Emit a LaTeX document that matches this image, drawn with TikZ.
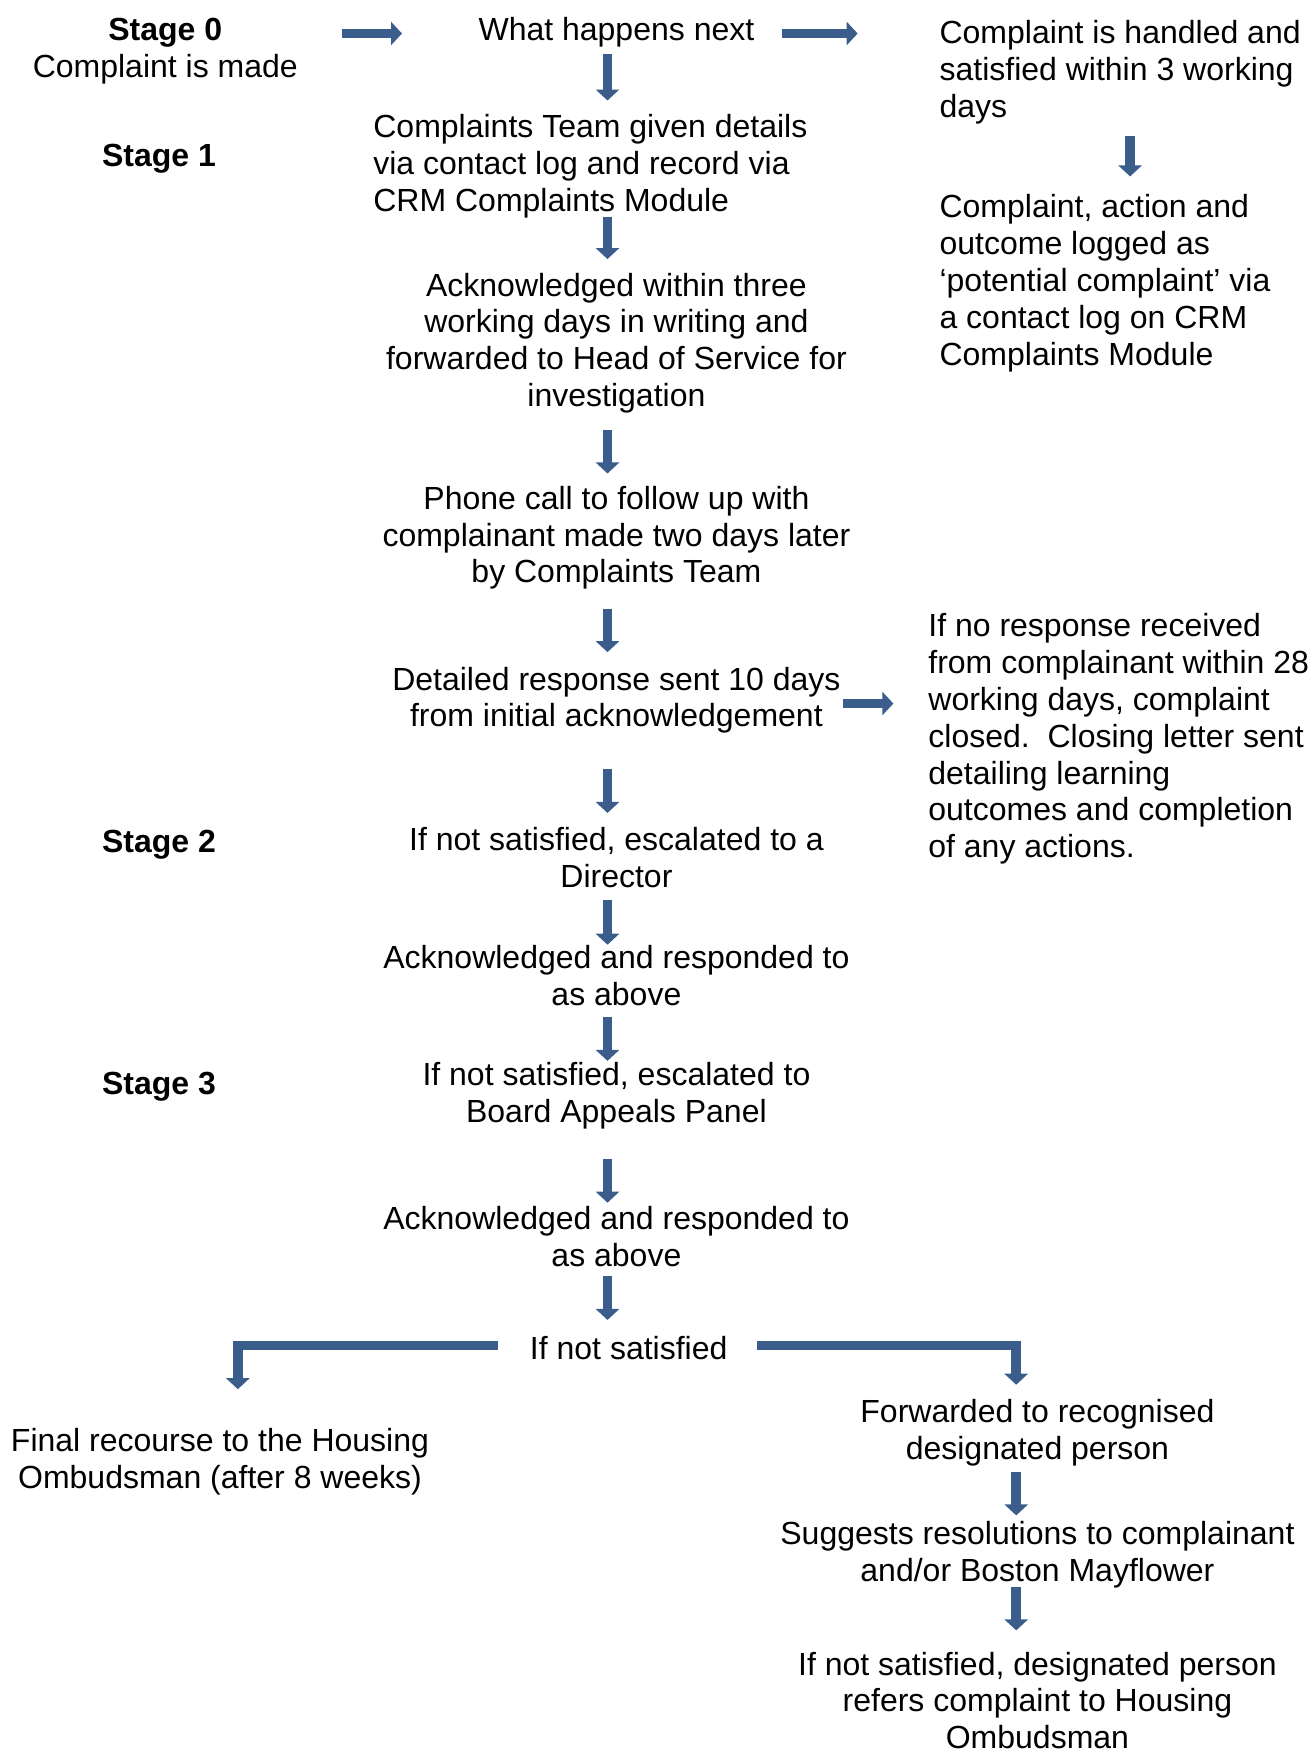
\documentclass[tikz,border=0pt]{standalone}
\usepackage{fontspec}
\setmainfont{Liberation Sans}
\usetikzlibrary{arrows.meta}
\definecolor{arrowblue}{RGB}{58,93,140}
\begin{document}
\begin{tikzpicture}[x=0.5583pt,y=-0.5583pt,
  txt/.style={inner sep=0pt, font=\fontsize{16}{18.4}\selectfont},
  ctxt/.style={txt, align=center, anchor=base},
  ltxt/.style={txt, align=left, anchor=base west},
  arr/.style={draw=arrowblue, line width=4.8pt, line join=miter, -{Triangle[width=11.5pt,length=5.5pt]}}]
\useasboundingbox (0,0) rectangle (1175,1568);
% multi-line nodes are placed by the baseline of their last line

% left column
\node[ctxt] (stage0) at (148,69) {\textbf{Stage 0}\\Complaint is made};
\node[ltxt] (stage1) at (91,149) {\textbf{Stage 1}};
\node[ltxt] (stage2) at (91,763) {\textbf{Stage 2}};
\node[ltxt] (stage3) at (91,980) {\textbf{Stage 3}};

% centre column
\node[ctxt] (what) at (552,36) {What happens next};
\node[ltxt] (team) at (334,189) {Complaints Team given details\\via contact log and record via\\CRM Complaints Module};
\node[ctxt] (ack) at (552,364) {Acknowledged within three\\working days in writing and\\forwarded to Head of Service for\\investigation};
\node[ctxt] (phone) at (552,522) {Phone call to follow up with\\complainant made two days later\\by Complaints Team};
\node[ctxt] (detail) at (552,651) {Detailed response sent 10 days\\from initial acknowledgement};
\node[ctxt] (esc1) at (552,795) {If not satisfied, escalated to a\\Director};
\node[ctxt] (ackab1) at (552,900) {Acknowledged and responded to\\as above};
\node[ctxt] (esc2) at (552,1005) {If not satisfied, escalated to\\Board Appeals Panel};
\node[ctxt] (ackab2) at (552,1134) {Acknowledged and responded to\\as above};
\node[ctxt] (ifnot) at (563,1217) {If not satisfied};

% right column
\node[ltxt] (handled) at (841,105) {Complaint is handled and\\satisfied within 3 working\\days};
\node[ltxt] (logged) at (841,327) {Complaint, action and\\outcome logged as\\‘potential complaint’ via\\a contact log on CRM\\Complaints Module};
\node[ltxt] (noresp) at (831,768) {If no response received\\from complainant within 28\\working days, complaint\\closed.\ \ Closing letter sent\\detailing learning\\outcomes and completion\\of any actions.};

% bottom
\node[ctxt] (final) at (197,1333) {Final recourse to the Housing\\Ombudsman (after 8 weeks)};
\node[ctxt] (fwd) at (929,1307) {Forwarded to recognised\\designated person};
\node[ctxt] (suggest) at (929,1416) {Suggests resolutions to complainant\\and/or Boston Mayflower};
\node[ctxt] (refer) at (929,1566) {If not satisfied, designated person\\refers complaint to Housing\\Ombudsman};

% arrow end points
\coordinate (r1s) at (306,30);  \coordinate (r1e) at (360,30);
\coordinate (r2s) at (700,30);  \coordinate (r2e) at (768,30);
\coordinate (r3s) at (755,630); \coordinate (r3e) at (800,630);
\coordinate (d0s) at (1012,122); \coordinate (d0e) at (1012,158);
\coordinate (d1s) at (544,48);   \coordinate (d1e) at (544,90);
\coordinate (d2s) at (544,194);  \coordinate (d2e) at (544,232);
\coordinate (d3s) at (544,385);  \coordinate (d3e) at (544,424);
\coordinate (d4s) at (544,545);  \coordinate (d4e) at (544,584);
\coordinate (d5s) at (544,689);  \coordinate (d5e) at (544,728);
\coordinate (d6s) at (544,806);  \coordinate (d6e) at (544,846);
\coordinate (d7s) at (544,911);  \coordinate (d7e) at (544,950);
\coordinate (d8s) at (544,1038); \coordinate (d8e) at (544,1077);
\coordinate (d9s) at (544,1143); \coordinate (d9e) at (544,1182);
\coordinate (lbs) at (446,1205); \coordinate (lbe) at (213,1244);
\coordinate (rbs) at (678,1205); \coordinate (rbe) at (910,1240);
\coordinate (e1s) at (910,1318); \coordinate (e1e) at (910,1357);
\coordinate (e2s) at (910,1421); \coordinate (e2e) at (910,1460);

\draw[arr] (r1s) -- (r1e);
\draw[arr] (r2s) -- (r2e);
\draw[arr] (r3s) -- (r3e);
\draw[arr] (d0s) -- (d0e);
\draw[arr] (d1s) -- (d1e);
\draw[arr] (d2s) -- (d2e);
\draw[arr] (d3s) -- (d3e);
\draw[arr] (d4s) -- (d4e);
\draw[arr] (d5s) -- (d5e);
\draw[arr] (d6s) -- (d6e);
\draw[arr] (d7s) -- (d7e);
\draw[arr] (d8s) -- (d8e);
\draw[arr] (d9s) -- (d9e);
\draw[arr] (lbs) -| (lbe);
\draw[arr] (rbs) -| (rbe);
\draw[arr] (e1s) -- (e1e);
\draw[arr] (e2s) -- (e2e);
\end{tikzpicture}
\end{document}
